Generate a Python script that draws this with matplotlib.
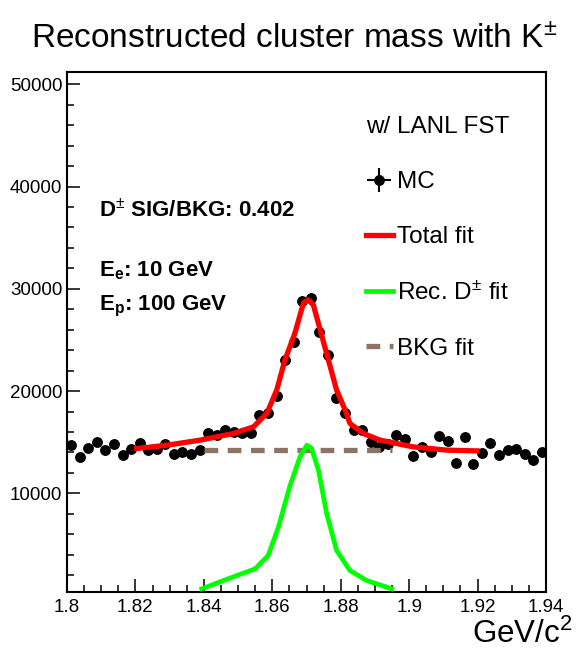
import matplotlib
matplotlib.use("Agg")
import matplotlib.pyplot as plt
from matplotlib import font_manager
from matplotlib.ticker import MultipleLocator, FormatStrFormatter
import numpy as np

# Fonts: ROOT-like Helvetica -> Liberation Sans (narrow if it is there)
names = {f.name for f in font_manager.fontManager.ttflist}
narrow = "Liberation Sans Narrow" if "Liberation Sans Narrow" in names else "Liberation Sans"
plt.rcParams["font.family"] = ["Liberation Sans", "DejaVu Sans"]
plt.rcParams["mathtext.fontset"] = "custom"
plt.rcParams["mathtext.rm"] = narrow
plt.rcParams["mathtext.it"] = narrow + ":italic"
plt.rcParams["mathtext.bf"] = "Liberation Sans:bold"

# MC histogram (bin width 0.0025 GeV/c^2)
mc_x = [1.80125, 1.80375, 1.80625, 1.80875, 1.81125, 1.81375, 1.81625, 1.81875,
        1.82125, 1.82375, 1.82625, 1.82875, 1.83125, 1.83375, 1.83625, 1.83875,
        1.84125, 1.84375, 1.84625, 1.84875, 1.85125, 1.85375, 1.85625, 1.85875,
        1.86125, 1.86375, 1.86625, 1.86875, 1.87125, 1.87375, 1.87625, 1.87875,
        1.88125, 1.88375, 1.88625, 1.88875, 1.89125, 1.89375, 1.89625, 1.89875,
        1.90125, 1.90375, 1.90625, 1.90875, 1.91125, 1.91375, 1.91625, 1.91875,
        1.92125, 1.92375, 1.92625, 1.92875, 1.93125, 1.93375, 1.93625, 1.93875]
mc_y = [14700, 13560, 14450, 15030, 14220, 14780, 13730, 14380, 14950, 14220,
        14300, 14780, 13890, 14050, 13890, 14220, 15850, 15690, 16180, 16010,
        15850, 15850, 17650, 17810, 19500, 23040, 24830, 28760, 29080, 25810,
        23530, 19280, 17900, 16180, 16180, 15030, 14540, 14870, 15690, 15360,
        13620, 14540, 14050, 15600, 15100, 13000, 15500, 12820, 13950, 14930,
        13730, 14280, 14380, 13890, 13300, 14050]
bin_half = 0.00125

# Total fit (red)
tot_x = [1.8204, 1.8291, 1.8389, 1.8486, 1.8545, 1.8584, 1.8613, 1.8637, 1.8666,
         1.8691, 1.8705, 1.8720, 1.8740, 1.8764, 1.8788, 1.8813, 1.8827, 1.8866,
         1.8915, 1.9012, 1.9110, 1.9198]
tot_y = [14380, 14700, 15200, 15850, 16500, 17810, 20100, 23040, 25650,
         28600, 28920, 28430, 25980, 23040, 20100, 18140, 16830, 15850,
         15200, 14540, 14220, 14150]

# Signal fit (green)
sig_x = [1.8394, 1.8457, 1.8550, 1.8588, 1.8618, 1.8652, 1.8681, 1.8701,
         1.8715, 1.8735, 1.8759, 1.8788, 1.8827, 1.8876, 1.8949]
sig_y = [660, 1470, 2620, 3920, 6700, 10780, 13560, 14700,
         14380, 12250, 8010, 4410, 2450, 1470, 660]

# Background fit (brown, dashed)
bkg_x = [1.84, 1.895]
bkg_y = [14200, 14200]

W, H = 577, 649
fig = plt.figure(figsize=(W / 100, H / 100), dpi=100)
ax = fig.add_axes([67 / W, 1 - 592 / H, (546 - 67) / W, (592 - 72) / H])

mc = ax.errorbar(mc_x, mc_y, xerr=bin_half, yerr=np.sqrt(mc_y), fmt="o",
                 color="black", ms=6.8, elinewidth=1.5, capsize=0, zorder=2)
bkg, = ax.plot(bkg_x, bkg_y, color="#8c7364", lw=3.8, dashes=(2.6, 1.8), zorder=3)
sig, = ax.plot(sig_x, sig_y, color="#00ff00", lw=3.4, zorder=3)
tot, = ax.plot(tot_x, tot_y, color="#ff0000", lw=3.8, zorder=4)

ax.set_xlim(1.8, 1.94)
ax.set_ylim(350, 51200)
ax.xaxis.set_major_locator(MultipleLocator(0.02))
ax.xaxis.set_minor_locator(MultipleLocator(0.005))
ax.yaxis.set_major_locator(MultipleLocator(10000))
ax.yaxis.set_minor_locator(MultipleLocator(2000))
ax.xaxis.set_major_formatter(FormatStrFormatter("%g"))
ax.tick_params(which="both", direction="in", top=False, right=False, width=1.1)
ax.tick_params(which="major", length=9.5, labelsize=13.5)
ax.tick_params(which="minor", length=5)
ax.tick_params(axis="y", pad=3.4)
ax.tick_params(axis="x", pad=5.0)
for s in ax.spines.values():
    s.set_linewidth(1.5)

fig.text(294 / W, 1 - 48 / H, r"Reconstructed cluster mass with K$^{\pm}$",
         ha="center", va="baseline", fontsize=24, family=narrow)
fig.text(572 / W, 1 - 643 / H, r"GeV/c$^{2}$", ha="right", va="baseline",
         fontsize=22.5, family=narrow)

ax.text(0.0668, 0.721, r"D$^{\pm}$ SIG/BKG: 0.402", transform=ax.transAxes,
        fontsize=16, fontweight="bold", va="baseline")
ax.text(0.0668, 0.606, r"E$_{\mathbf{e}}$: 10 GeV", transform=ax.transAxes,
        fontsize=16, fontweight="bold", va="baseline")
ax.text(0.0668, 0.542, r"E$_{\mathbf{p}}$: 100 GeV", transform=ax.transAxes,
        fontsize=16, fontweight="bold", va="baseline")

leg = ax.legend([mc, tot, sig, bkg], ["MC", "Total fit", r"Rec. D$^{\pm}$ fit", "BKG fit"],
                title="w/ LANL FST", loc="upper left", bbox_to_anchor=(0.624, 0.915),
                frameon=False, borderpad=0, borderaxespad=0, handlelength=1.1,
                handletextpad=0.2, labelspacing=1.36, alignment="left",
                prop={"family": narrow, "size": 17.5},
                title_fontproperties={"family": narrow, "size": 17.5})

fig.savefig("out.png", dpi=100)
